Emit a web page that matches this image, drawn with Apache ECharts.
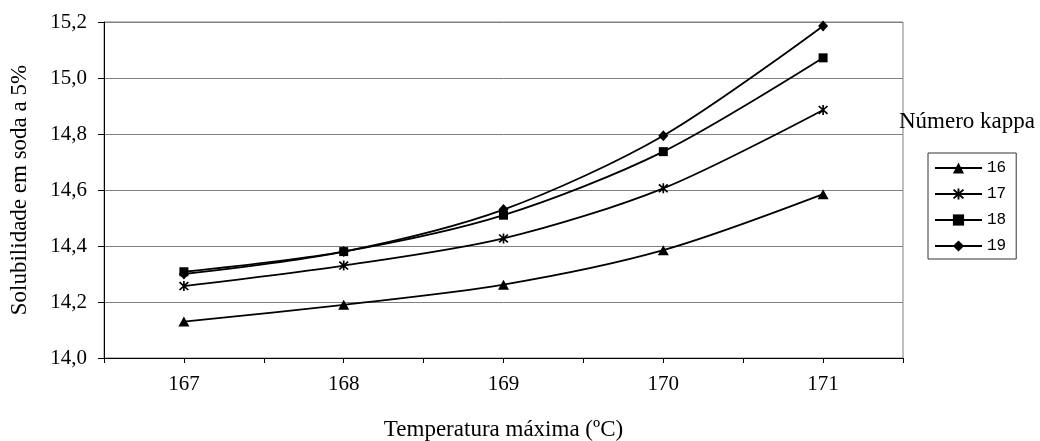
<!DOCTYPE html>
<html>
<head>
<meta charset="utf-8">
<script src="https://cdn.jsdelivr.net/npm/echarts@6/dist/echarts.min.js"></script>
<style>
  html, body { margin: 0; padding: 0; background: #fff; }
  #chart { width: 1040px; height: 441px; }
</style>
</head>
<body>
<div id="chart"></div>
<script>
// Maximum cooking temperature (ºC)
const temperatures = [167, 168, 169, 170, 171];

// Solubility in 5% soda for each kappa number
const kappaNames = ['16', '17', '18', '19'];
const kappa16 = [14.13, 14.19, 14.262, 14.385, 14.585];
const kappa17 = [14.257, 14.33, 14.427, 14.606, 14.886];
const kappa18 = [14.308, 14.38, 14.51, 14.737, 15.072];
const kappa19 = [14.30, 14.38, 14.53, 14.794, 15.186];

// Value-axis ticks
const yMin = 14.0, yMax = 15.2, yStep = 0.2;

const serif = '"Liberation Serif", "Times New Roman", serif';
const mono = '"Liberation Mono", "DejaVu Sans Mono", monospace';

// six-armed star marker
const asterisk = 'path://M4.25 0 H5.75 V10 H4.25 Z M0.5 1.6 L1.6 0.5 L9.5 8.4 L8.4 9.5 Z M8.4 0.5 L9.5 1.6 L1.6 9.5 L0.5 8.4 Z';

const seriesDefs = [
  { name: kappaNames[0], values: kappa16, symbol: 'triangle', size: [11, 10] },
  { name: kappaNames[1], values: kappa17, symbol: asterisk, size: 10 },
  { name: kappaNames[2], values: kappa18, symbol: 'rect', size: 9 },
  { name: kappaNames[3], values: kappa19, symbol: 'diamond', size: [10, 11] }
];

const chart = echarts.init(document.getElementById('chart'), null, { renderer: 'canvas' });

chart.setOption({
  animation: false,
  backgroundColor: '#ffffff',
  title: {
    text: 'Número kappa',
    left: 899,
    top: 110,
    padding: 0,
    textStyle: { fontFamily: serif, fontSize: 23, fontWeight: 'normal', color: '#000' }
  },
  legend: {
    orient: 'vertical',
    left: 928,
    top: 153,
    itemWidth: 47,
    itemHeight: 14,
    itemGap: 10,
    padding: [7, 10, 5, 6],
    borderColor: '#333',
    borderWidth: 1,
    data: kappaNames,
    textStyle: { fontFamily: mono, fontSize: 16, lineHeight: 16, color: '#000' }
  },
  grid: {
    left: 104,
    right: 137,
    top: 22,
    bottom: 83,
    outerBoundsMode: 'none',
    containLabel: false,
    show: true,
    borderColor: '#808080',
    borderWidth: 1,
    backgroundColor: 'transparent'
  },
  xAxis: {
    type: 'value',
    min: 166.5,
    max: 171.5,
    interval: 0.5,
    name: 'Temperatura máxima (ºC)',
    nameLocation: 'middle',
    nameGap: 60,
    nameTextStyle: { fontFamily: serif, fontSize: 23, color: '#000' },
    axisLine: { show: true, onZero: false, lineStyle: { color: '#000', width: 1 } },
    axisTick: { show: true, length: 5, lineStyle: { color: '#000' } },
    splitLine: { show: false },
    axisLabel: {
      margin: 16,
      fontFamily: serif,
      fontSize: 21,
      color: '#000',
      formatter: v => (temperatures.includes(v) ? String(v) : '')
    }
  },
  yAxis: {
    type: 'value',
    min: yMin,
    max: yMax,
    interval: yStep,
    name: 'Solubilidade em soda a 5%',
    nameLocation: 'middle',
    nameGap: 73,
    nameRotate: 90,
    nameTextStyle: { fontFamily: serif, fontSize: 23, color: '#000' },
    axisLine: { show: true, lineStyle: { color: '#000', width: 1 } },
    axisTick: { show: true, length: 6, lineStyle: { color: '#000' } },
    splitLine: { show: true, lineStyle: { color: '#808080', width: 1 } },
    axisLabel: {
      margin: 17,
      fontFamily: serif,
      fontSize: 21,
      color: '#000',
      formatter: v => v.toFixed(1).replace('.', ',')
    }
  },
  series: seriesDefs.map(s => ({
    name: s.name,
    type: 'line',
    smooth: 0.3,
    symbol: s.symbol,
    symbolSize: s.size,
    showAllSymbol: true,
    color: '#000',
    itemStyle: { color: '#000' },
    lineStyle: { color: '#000', width: 1.8 },
    data: temperatures.map((t, i) => [t, s.values[i]])
  }))
});
</script>
</body>
</html>
